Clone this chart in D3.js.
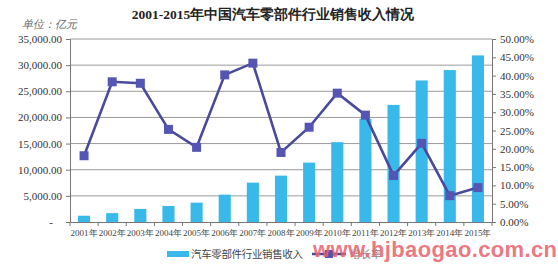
<!DOCTYPE html>
<html><head><meta charset="utf-8">
<script src="https://cdn.jsdelivr.net/npm/d3@7"></script>
<style>body{margin:0;background:#fff}svg{display:block}</style>
</head><body><svg id="c" width="558" height="276"></svg>
<script>
const years = ["2001年","2002年","2003年","2004年","2005年","2006年","2007年","2008年","2009年","2010年","2011年","2012年","2013年","2014年","2015年"];
const revenue = [1200,1700,2500,3070,3700,5230,7530,8870,11360,15270,19730,22400,27070,29060,31860];
const growth = [18.1,38.3,37.9,25.3,20.4,40.2,43.4,19.0,25.9,35.2,29.2,12.7,21.5,7.2,9.4];
const leftTicks = [0,5000,10000,15000,20000,25000,30000,35000];
const rightTicks = [0,5,10,15,20,25,30,35,40,45,50];
const title = "2001-2015年中国汽车零部件行业销售收入情况";
const unitLabel = "单位：亿元";
const seriesNames = ["汽车零部件行业销售收入","增长率"];
const watermark = "www.hjbaogao.com.cn";

const svg = d3.select("#c");
const L=70, R=492, T=39, B=222;
const x = d3.scaleBand().domain(years).range([L,R]).paddingInner(0.57).paddingOuter(0.285);
const xc = d3.scaleBand().domain(years).range([L,R]);
const yL = d3.scaleLinear().domain([0,35000]).range([B,T]);
const yR = d3.scaleLinear().domain([0,50]).range([B,T]);
const serif = "'Liberation Serif','DejaVu Serif',serif";

// gridlines
svg.append("g").selectAll("line").data(leftTicks.filter(d=>d>0)).join("line")
  .attr("x1",L).attr("x2",R).attr("y1",d=>yL(d)).attr("y2",d=>yL(d))
  .attr("stroke","#9a9a9a").attr("stroke-width",1);

// bars
svg.append("g").selectAll("rect").data(revenue).join("rect")
  .attr("x",(d,i)=>x(years[i])).attr("width",x.bandwidth())
  .attr("y",d=>yL(d)).attr("height",d=>B-yL(d)).attr("fill","#38b9ea");

// left axis
const axL = svg.append("g").attr("transform",`translate(${L},0)`)
  .call(d3.axisLeft(yL).tickValues(leftTicks).tickSize(4)
    .tickFormat(d=>d===0?"-":d3.format(",.2f")(d)));
axL.select(".domain").attr("stroke","#777");
axL.selectAll(".tick line").attr("stroke","#777");
axL.selectAll("text").attr("font-family",serif).attr("font-size",11).attr("fill","#333").attr("x",-8);
axL.selectAll(".tick").filter(d=>d===0).select("text").attr("x",-17);

// right axis
const axR = svg.append("g").attr("transform",`translate(${R},0)`)
  .call(d3.axisRight(yR).tickValues(rightTicks).tickSize(4).tickFormat(d=>d.toFixed(2)+"%"));
axR.select(".domain").attr("stroke","#777");
axR.selectAll(".tick line").attr("stroke","#777");
axR.selectAll("text").attr("font-family",serif).attr("font-size",11).attr("fill","#333").attr("x",8);

// bottom axis
const axB = svg.append("g").attr("transform",`translate(0,${B})`)
  .call(d3.axisBottom(xc).tickSize(0).tickSizeOuter(0));
axB.select(".domain").attr("stroke","#777");
axB.selectAll("text").attr("font-family",serif).attr("font-size",9).attr("fill","#444").attr("y",8);
svg.append("g").selectAll("line").data(years.concat(["end"])).join("line")
  .attr("x1",(d,i)=>L+i*xc.step()).attr("x2",(d,i)=>L+i*xc.step())
  .attr("y1",B).attr("y2",B+4).attr("stroke","#777");

// line
const line = d3.line().x((d,i)=>xc(years[i])+xc.bandwidth()/2).y(d=>yR(d));
svg.append("path").datum(growth).attr("d",line).attr("fill","none")
  .attr("stroke","#4a4a9c").attr("stroke-width",2.6);
svg.append("g").selectAll("rect").data(growth).join("rect")
  .attr("x",(d,i)=>xc(years[i])+xc.bandwidth()/2-4.5).attr("y",d=>yR(d)-4.5)
  .attr("width",9).attr("height",9).attr("fill","#5555b4");

// title
svg.append("text").attr("x",273).attr("y",19).attr("text-anchor","middle")
  .attr("font-family",serif).attr("font-weight","bold").attr("font-size",13.5).attr("fill","#222")
  .text(title);
svg.append("text").attr("x",22).attr("y",28).attr("font-family",serif).attr("font-style","italic")
  .attr("font-size",11).attr("fill","#666").text(unitLabel);

// legend
svg.append("rect").attr("x",167).attr("y",251).attr("width",22).attr("height",6).attr("fill","#38b9ea");
svg.append("text").attr("x",191).attr("y",258).attr("font-size",10.5).attr("fill","#444")
  .attr("font-family","'Noto Sans CJK SC',sans-serif").attr("textLength",112).text(seriesNames[0]);
svg.append("line").attr("x1",312).attr("x2",346).attr("y1",254).attr("y2",254).attr("stroke","#4a4a9c").attr("stroke-width",2.5);
svg.append("rect").attr("x",325).attr("y",250).attr("width",8).attr("height",8).attr("fill","#5555b4");
svg.append("text").attr("x",350).attr("y",258).attr("font-size",10.5).attr("fill","#888")
  .attr("font-family","'Noto Sans CJK SC',sans-serif").text(seriesNames[1]);

// watermark
svg.append("text").attr("x",313).attr("y",257).attr("font-family","'Liberation Sans',Arial,sans-serif")
  .attr("font-weight","bold").attr("font-size",22).attr("fill","#e9606a").attr("fill-opacity",0.85)
  .attr("textLength",244).attr("lengthAdjust","spacing").text(watermark);
</script></body></html>
